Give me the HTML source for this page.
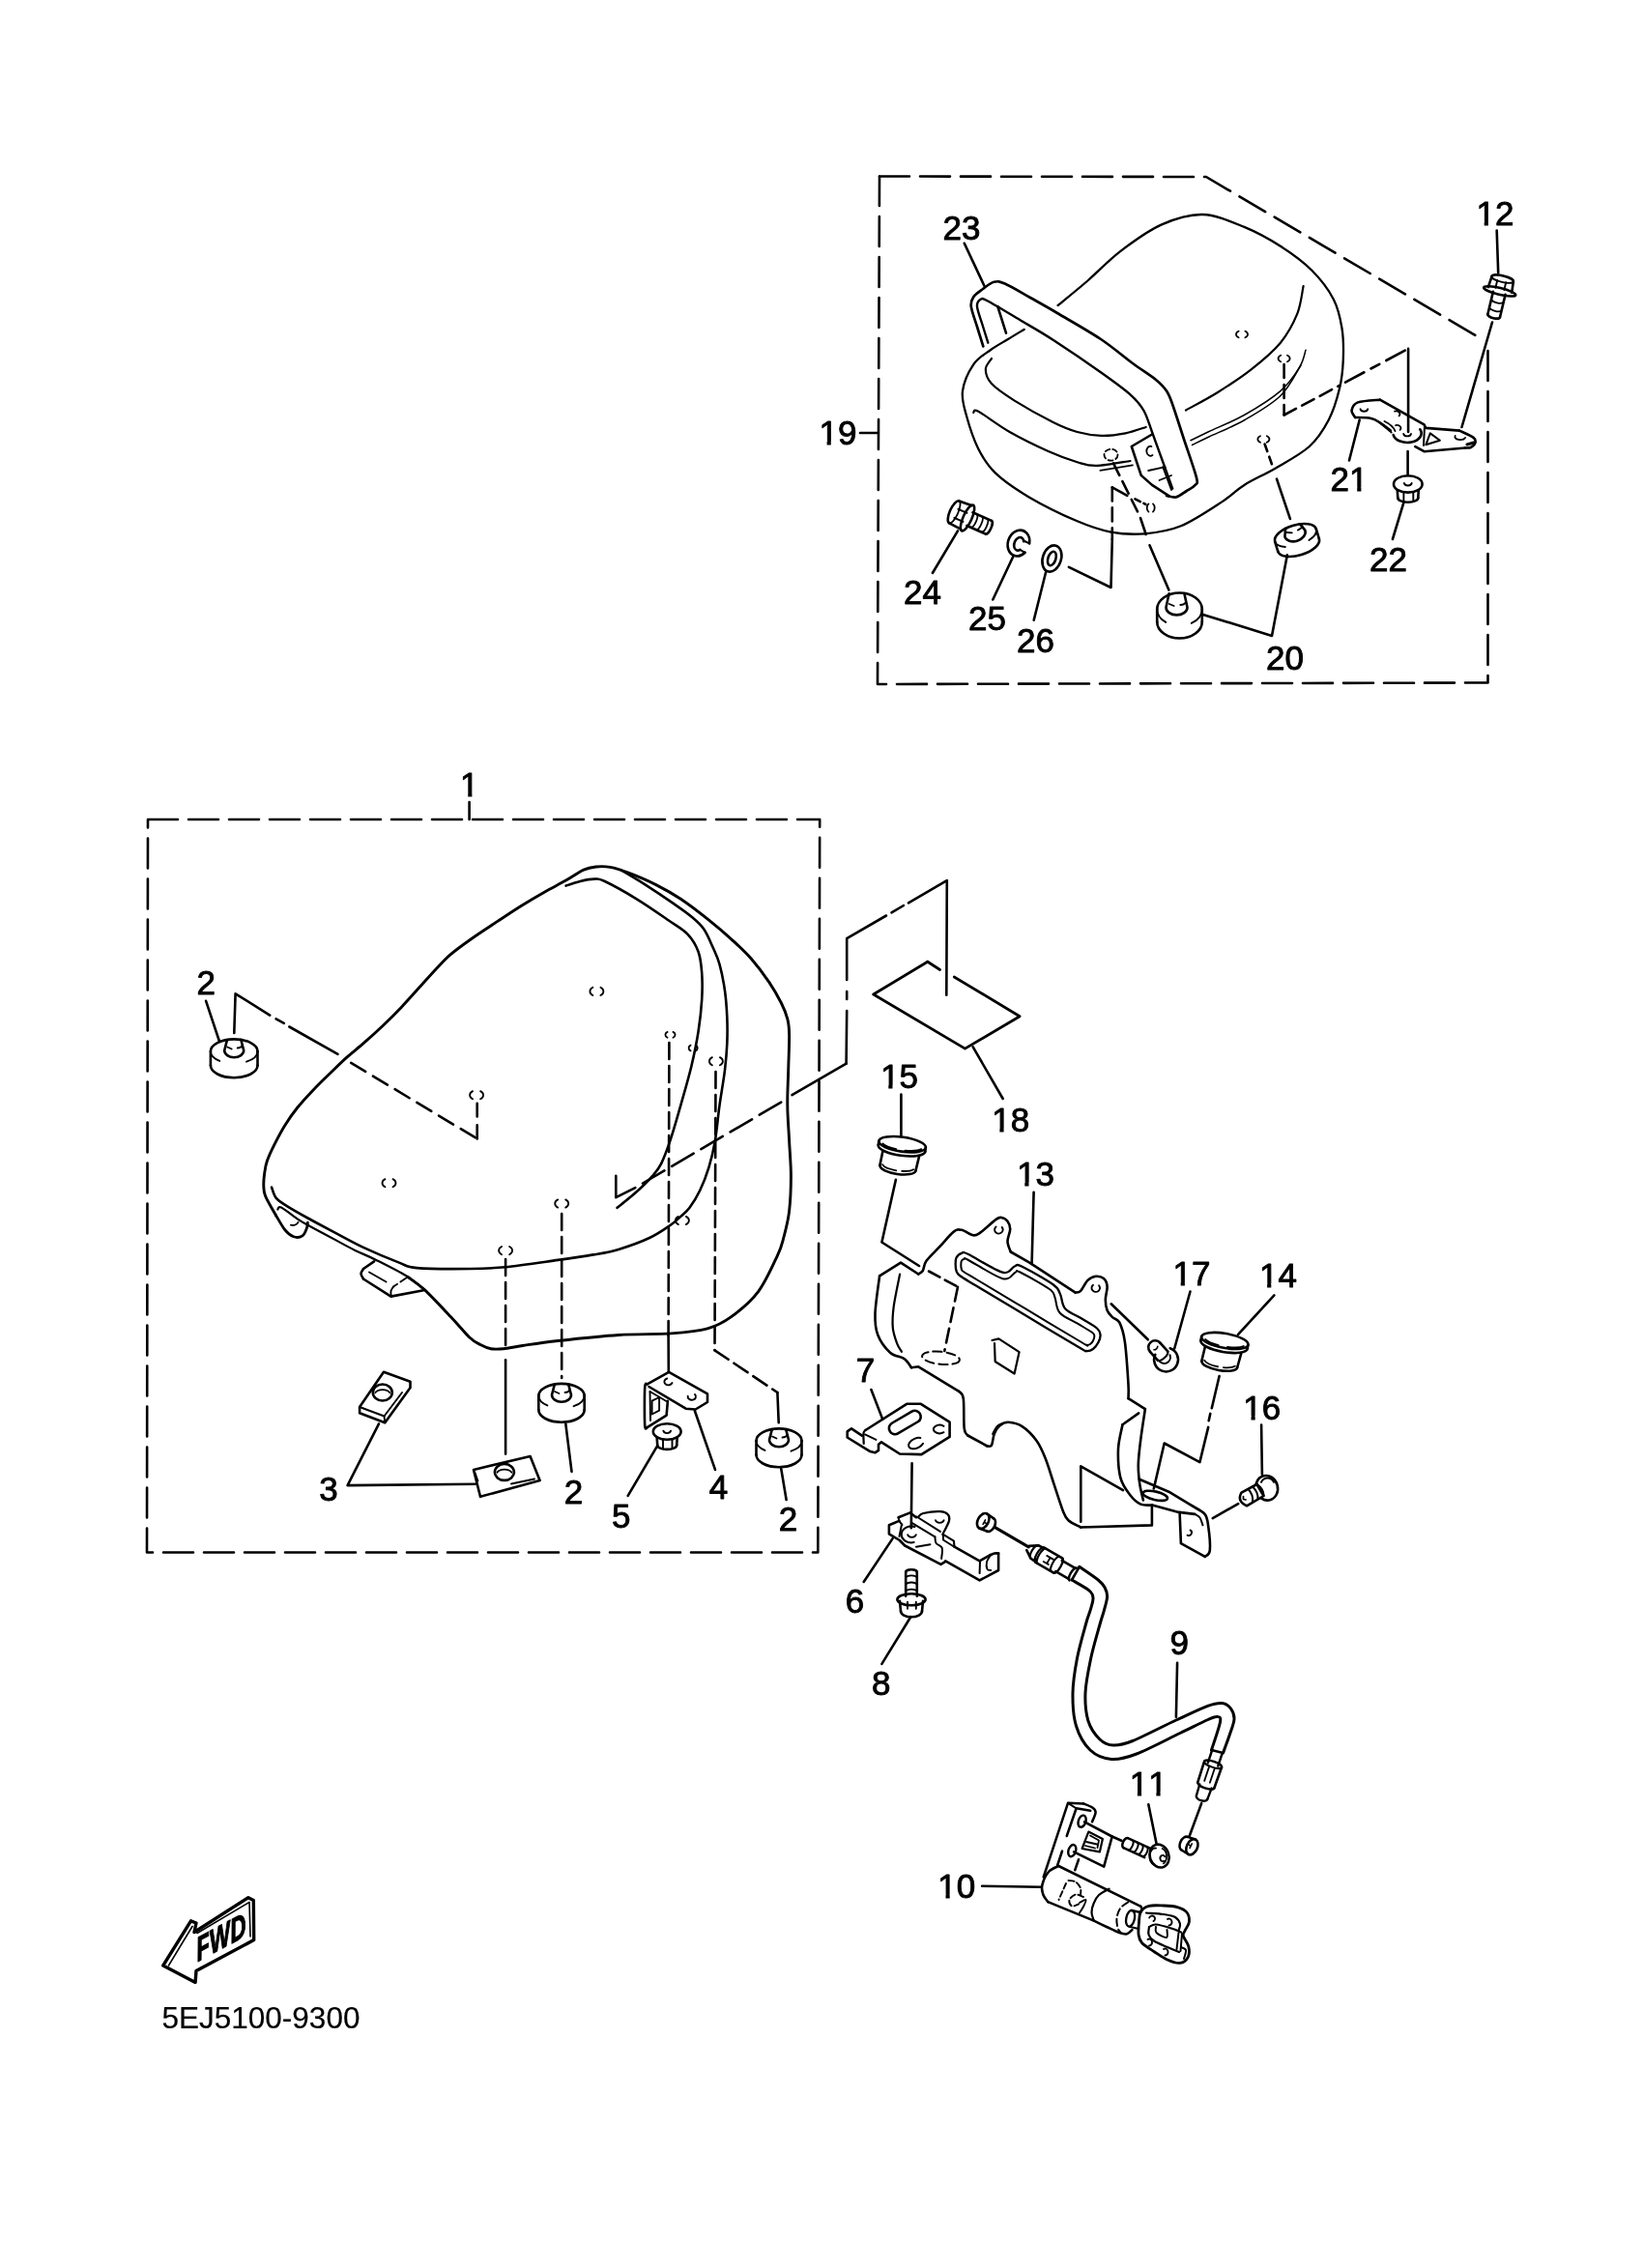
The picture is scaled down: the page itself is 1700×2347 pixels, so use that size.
<!DOCTYPE html>
<html><head><meta charset="utf-8"><title>Seat parts diagram</title>
<style>
html,body{margin:0;padding:0;background:#fff;}
body{width:1700px;height:2347px;overflow:hidden;}
svg{display:block;}
svg{filter:grayscale(1);}
text{font-family:"Liberation Sans",sans-serif;fill:#000;stroke:#000;stroke-width:0.5px;}
text.lb{stroke-width:0.9px;letter-spacing:0.0px;font-kerning:none;}
rect.m{fill:#fff;stroke:none;}
</style></head><body>
<svg width="1700" height="2347" viewBox="0 0 1700 2347" fill="none" stroke="#000" stroke-width="2.6" stroke-linecap="round" stroke-linejoin="round">
<path d="M910 182.5 L1248 183 L1534 351.5" stroke-dasharray="31 11"/>
<path d="M1539.5 363 L1539.5 706.5 L908 708 L910 182.5" stroke-dasharray="31 11"/>
<path d="M890 448 L908 448"/>
<text class="lb" x="866.9" y="460.2" font-size="35" text-anchor="middle">19</text><rect class="m" x="848.6" y="456.7" width="7" height="6"/><rect class="m" x="859.8" y="456.7" width="6.7" height="6"/>
<path d="M1094.6 316 C1099.8 311.7 1115.2 299.4 1126 290 C1136.8 280.6 1146.8 269.4 1159.5 259.8 C1172.2 250.2 1187.8 238.7 1202 232.4 C1216.2 226.1 1230.2 221.6 1244.4 222 C1258.6 222.4 1274 229.4 1287.4 234.9 C1300.8 240.4 1313.2 247.3 1324.9 254.8 C1336.6 262.3 1348.2 270.7 1357.3 279.8 C1366.4 288.9 1374.6 299.7 1379.8 309.7 C1385 319.7 1386.8 329.3 1388.5 339.7 C1390.2 350.1 1390.2 361.7 1389.8 372.1 C1389.4 382.5 1388.5 391.7 1386 402.1 C1383.5 412.5 1380 424.5 1374.8 434.5 C1369.6 444.5 1363.9 453.7 1354.8 462 C1345.7 470.3 1331.1 477.8 1319.9 484.4 C1308.7 491 1296.7 496.1 1287.4 501.9 C1278.1 507.7 1275.2 512.3 1264.3 519.4 C1253.4 526.5 1235.3 538.8 1222 544.3 C1208.7 549.8 1196.6 551.2 1184.5 552.3 C1172.4 553.3 1161.2 552.8 1149.5 550.6 C1137.8 548.4 1128.7 545.3 1114.6 539.3 C1100.5 533.3 1078.8 522.7 1064.7 514.4 C1050.6 506.1 1038.5 497.7 1029.8 489.4 C1021.1 481.1 1017.3 474.5 1012.3 464.5 C1007.3 454.5 1002.5 439.5 999.8 429.5 C997.1 419.5 994.8 413.3 996 404.6 C997.2 395.9 1002.5 384.2 1007.3 377.1 C1012.1 370 1018.8 366.6 1024.8 362.2 C1030.8 357.8 1037.2 354.6 1043 351 C1048.8 347.4 1056.9 342.6 1059.7 340.9" stroke-width="2.3"/>
<path d="M1026 370.9 C1025 372.8 1019.8 377.7 1019.8 382.1 C1019.8 386.5 1021 391.7 1026 397.1 C1031 402.5 1039.1 408 1049.7 414.6 C1060.3 421.2 1078.9 431.6 1089.7 437 C1100.5 442.4 1106.3 444.7 1114.6 447 C1122.9 449.3 1131.3 450.6 1139.6 450.8 C1147.9 451 1156.8 449.8 1164.5 448.3 C1172.2 446.8 1182.2 443.1 1185.7 442" stroke-width="2.2"/>
<path d="M1007.3 427 C1008.1 426.8 1006.1 422.5 1012.3 425.8 C1018.5 429.1 1032.6 440.1 1044.7 447 C1056.8 453.9 1073.1 461.8 1084.7 467 C1096.3 472.2 1106.3 475.7 1114.6 478.2 C1122.9 480.7 1125.4 482.1 1134.6 481.9 C1143.8 481.7 1163.7 477.8 1169.5 477" stroke-width="2.2"/>
<path d="M1138.3 486.9 L1172 481.4" stroke-width="1.6"/>
<path d="M1348.6 296 C1347.5 300.8 1346.2 314.9 1342.3 324.7 C1338.3 334.5 1332.8 345.1 1324.9 354.7 C1317 364.3 1305.7 373.6 1294.9 382.1 C1284.1 390.7 1271.3 398.9 1260 406 C1248.7 413.1 1232.5 421.4 1227 424.5" stroke-width="2.2"/>
<path d="M1351 362.2 C1350 365.1 1349.1 372.5 1344.8 379.6 C1340.5 386.7 1334.5 396.3 1324.9 404.6 C1315.3 412.9 1299.9 422.4 1287.4 429.5 C1274.9 436.6 1259.2 442.6 1250 447 C1240.8 451.4 1235 454.2 1232 455.7" stroke-width="1.5"/>
<path d="M1346 378 C1342.5 383.2 1334.7 400.1 1325 409.5 C1315.3 418.9 1300.3 427.4 1288 434.5 C1275.7 441.6 1260.1 447.7 1251 452 C1241.9 456.3 1236.4 459.1 1233.5 460.5" stroke-width="1.5"/>
<path d="M1017.3 358.4 C1016.2 355 1013.1 344.9 1011 338 C1008.9 331.1 1005.4 322.3 1004.8 317.2 C1004.2 312.1 1005.3 310.2 1007.3 307.2 C1009.3 304.2 1013.5 301.6 1017 299 C1020.5 296.4 1024.7 292.7 1028.5 291.8 C1032.3 290.9 1033.5 290.8 1039.7 293.5 C1046 296.2 1057 302.9 1066 308 C1075 313.1 1081.8 316.8 1094 324 C1106.2 331.2 1126 342.3 1139 351 C1152 359.7 1162.5 369 1172 376 C1181.5 383 1190.2 388.2 1196 393 C1201.8 397.8 1204.2 400.4 1207 404.6 C1209.8 408.8 1209.9 409.4 1213 418 C1216.1 426.6 1221.3 443.3 1225.5 456 C1229.7 468.7 1236.2 486.7 1238 494.4 C1239.8 502.1 1238.3 499.6 1236.5 502 C1234.7 504.4 1230.2 506.4 1227 508.5 C1223.8 510.6 1220.3 513.6 1217 514.4 C1213.7 515.1 1208.7 513.2 1207 513" stroke-width="2.7"/>
<path d="M1022.3 354.7 C1021.3 351.6 1018.4 342.2 1016.5 336 C1014.6 329.8 1011.3 321.6 1011 317.2 C1010.7 312.8 1013 310.6 1014.8 309.7 C1016.6 308.8 1015.1 307.9 1022 311.5 C1028.9 315.1 1044.7 324.8 1056 331.5 C1067.3 338.2 1076 342.9 1090 352 C1104 361.1 1126.8 376.6 1140 386 C1153.2 395.4 1162.3 401.9 1169.5 408.3 C1176.7 414.7 1179.5 418.1 1183.2 424.5 C1187 430.9 1188.8 438.4 1192 447 C1195.2 455.6 1199 466.2 1202.5 476 C1206 485.8 1211.4 500.8 1213.2 505.7" stroke-width="2.4"/>
<path d="M1032.3 317.2 L1041 344.7"/>
<path d="M1192 449.5 L1170.8 462 L1180.7 491.9 L1192 501.9 L1209.4 513.1"/>
<path d="M1191.5 462 A4 5 0 1 0 1192.5 471" stroke-width="1.8"/>
<path d="M1188.2 487 L1205.7 483.2" stroke-width="1.8"/>
<path d="M1199.5 497 L1212 492" stroke-width="1.8"/>
<path d="M1203.2 483.2 L1212 507" stroke-width="1.8"/>
<path d="M1281.6 342.7 A6 4 0 0 0 1281.6 349.3" stroke-width="1.8"/>
<path d="M1288.4 342.7 A6 4 0 0 1 1288.4 349.3" stroke-width="1.8"/>
<path d="M1325.2 367.7 A6 4 0 0 0 1325.2 374.3" stroke-width="1.8"/>
<path d="M1332 367.7 A6 4 0 0 1 1332 374.3" stroke-width="1.8"/>
<path d="M1304 451.2 A6 4 0 0 0 1304 457.8" stroke-width="1.8"/>
<path d="M1310.8 451.2 A6 4 0 0 1 1310.8 457.8" stroke-width="1.8"/>
<ellipse cx="1149.5" cy="470.7" rx="7" ry="6" stroke-width="1.8" stroke-dasharray="5 3"/>
<path d="M1188.4 521.4 A4 5 0 0 0 1188.4 529.6" stroke-width="1.8"/>
<path d="M1193 521.4 A4 5 0 0 1 1193 529.6" stroke-width="1.8"/>
<path d="M1328.6 377 L1328.6 429.5" stroke-dasharray="14 7"/>
<path d="M1328.6 429.5 L1386 399" stroke-dasharray="14 7"/>
<path d="M1392 395.6 L1457.1 360.9" stroke-dasharray="22 8 10 8"/>
<path d="M1457.1 360.9 L1457.1 447"/>
<path d="M1152 479.4 L1177 529.4" stroke-dasharray="14 7"/>
<path d="M1180 536 L1185.7 553"/>
<path d="M1189.5 564.3 L1209.4 610.5"/>
<path d="M1150.8 504.4 L1150.8 558" stroke-dasharray="14 7"/>
<path d="M1150.8 558 L1149.5 608 L1105.9 586.8"/>
<path d="M1150.8 504.4 L1166.3 512.8"/>
<path d="M1174.5 516.4 L1185.4 521.9" stroke-dasharray="6 4"/>
<path d="M1308.6 459.5 L1317.4 484.4" stroke-dasharray="8 6"/>
<path d="M1321 495.7 L1334.9 536.9"/>
<path d="M1331.9 574.3 L1316 657.9 L1243 635.4"/>
<path d="M997.8 251.8 L1018.5 296"/>
<path d="M991 549.3 L964.9 593"/>
<path d="M1048.5 575.5 L1027.3 620.5"/>
<path d="M1082.2 591.8 L1069.7 641.7"/>
<path d="M1548.7 238.6 L1550.2 282.3"/>
<path d="M1544 333.5 L1512.5 442"/>
<path d="M1406.7 434.5 L1396 476.5"/>
<path d="M1456.6 467 L1456.6 491.9"/>
<path d="M1452.6 519.4 L1440.9 558"/>
<text class="lb" x="995" y="247.6" font-size="35" text-anchor="middle">23</text>
<text class="lb" x="1547" y="232.6" font-size="35" text-anchor="middle">12</text><rect class="m" x="1528.7" y="229.1" width="7" height="6"/><rect class="m" x="1539.9" y="229.1" width="6.7" height="6"/>
<text class="lb" x="1396" y="508" font-size="35" text-anchor="middle">21</text><rect class="m" x="1397.2" y="504.5" width="7" height="6"/><rect class="m" x="1408.4" y="504.5" width="6.7" height="6"/>
<text class="lb" x="1436.5" y="591.1" font-size="35" text-anchor="middle">22</text>
<text class="lb" x="1329.5" y="693.4" font-size="35" text-anchor="middle">20</text>
<text class="lb" x="954.5" y="624.6" font-size="35" text-anchor="middle">24</text>
<text class="lb" x="1021.5" y="652.2" font-size="35" text-anchor="middle">25</text>
<text class="lb" x="1071.5" y="674.6" font-size="35" text-anchor="middle">26</text>
<ellipse cx="1088.4" cy="578" rx="9.5" ry="14" transform="rotate(18 1088.4 578)"/>
<ellipse cx="1088.4" cy="578" rx="4" ry="7.5" transform="rotate(18 1088.4 578)"/>
<g transform="translate(1054 562.1) rotate(20)">
<path d="M9.5 6.8 A11 13.7 0 1 1 10.6 -3.5"/>
<path d="M3.6 5.9 A4.8 7 0 1 1 4.4 -3.5"/>
<path d="M10.6 -3.5 L3.9 -4.2" stroke-width="2"/>
<path d="M9.5 6.9 L3.6 5.9" stroke-width="2"/>
</g>
<g transform="translate(1551.7 301.4) rotate(103.4)">
<ellipse cx="0" cy="0" rx="3.4" ry="17"/>
<path d="M-1.5 -12.5 L-13 -11.5"/>
<path d="M-1.5 12.5 L-13 11.5"/>
<path d="M-13 11.5 A3.4 11.5 0 0 1 -13 -11.5"/>
<path d="M-13 -11.5 A3.1 11.5 0 0 1 -13 11.5" stroke-width="1.8"/>
<path d="M-2.5 -4.2 L-10.5 -4.2" stroke-width="1.9"/>
<path d="M-2.5 5 L-10.5 5" stroke-width="1.9"/>
<path d="M2 -6.5 L26 -6.5"/>
<path d="M2 6.5 L26 6.5"/>
<path d="M26 -6.5 A2.6 6.5 0 0 1 26 6.5"/>
<path d="M10.1 -6.4 A2.6 6.5 0 0 1 10.1 6.4" stroke-width="1.8"/>
<path d="M18.8 -6.4 A2.6 6.5 0 0 1 18.8 6.4" stroke-width="1.8"/>
</g>
<g transform="translate(1001 536) rotate(24)">
<ellipse cx="0" cy="0" rx="4.5" ry="14.5"/>
<path d="M-1.5 -13.5 L-15 -12.5"/>
<path d="M-1.5 13.5 L-15 12.5"/>
<path d="M-15 12.5 A4.5 12.5 0 0 1 -15 -12.5"/>
<path d="M-15 -12.5 A4 12.5 0 0 1 -15 12.5" stroke-width="1.8"/>
<path d="M-2.5 -4.5 L-12.5 -4.5" stroke-width="1.9"/>
<path d="M-2.5 5.4 L-12.5 5.4" stroke-width="1.9"/>
<path d="M2.7 -7.5 L24 -7.5"/>
<path d="M2.7 7.5 L24 7.5"/>
<path d="M24 -7.5 A2.6 7.5 0 0 1 24 7.5"/>
<path d="M7.5 -7.4 A2.6 7.5 0 0 1 7.5 7.4" stroke-width="1.8"/>
<path d="M13.5 -7.4 A2.6 7.5 0 0 1 13.5 7.4" stroke-width="1.8"/>
<path d="M19.5 -7.4 A2.6 7.5 0 0 1 19.5 7.4" stroke-width="1.8"/>
</g>
<g transform="translate(1220.5 630.5)">
<path d="M-23.3 0 A23.3 17 0 0 1 23.3 -0"/>
<path d="M-23.3 0 A23.3 17 0 0 0 -14.3 13.4" stroke-width="1.9"/>
<path d="M23.3 0 A23.3 17 0 0 1 12.3 14.4" stroke-width="1.9"/>
<path d="M-23.3 0 L-23.3 13"/>
<path d="M23.3 0 L23.3 13"/>
<path d="M23.3 13 A23.3 17 0 0 1 -23.3 13"/>
<path d="M-10.9 -16.2 L-14 -2 A11 7.9 0 0 0 8 -2 L4.9 -16.2"/>
<path d="M-10.7 -5.5 L-5.8 -3.5" stroke-width="1.8"/>
<path d="M0.8 -4.5 Q4.7 -4.5 6.3 -7" stroke-width="1.8"/>
</g>
<g transform="translate(1340.5 554) rotate(-17)">
<path d="M-22.3 0 A22.3 10.5 0 0 1 22.3 -0"/>
<path d="M-22.3 0 A22.3 10.5 0 0 0 -13.7 8.3" stroke-width="1.9"/>
<path d="M22.3 0 A22.3 10.5 0 0 1 11.8 8.9" stroke-width="1.9"/>
<path d="M-22.3 0 L-22.3 10.5"/>
<path d="M22.3 0 L22.3 10.5"/>
<path d="M22.3 10.5 A22.3 10.5 0 0 1 -22.3 10.5"/>
<path d="M-7.9 -9.7 L-11 -2 A11 7.9 0 0 0 11 -2 L7.9 -9.7"/>
<path d="M-7.7 -5.5 L-2.8 -3.5" stroke-width="1.8"/>
<path d="M3.8 -4.5 Q7.7 -4.5 9.3 -7" stroke-width="1.8"/>
</g>
<ellipse cx="1456.8" cy="500.9" rx="14.8" ry="8.7"/>
<path d="M1460.7 500 A4 3.2 0 0 1 1452.9 500" stroke-width="1.9"/>
<path d="M1445.8 507.2 L1446.3 515.2"/>
<path d="M1467.8 507.2 L1467.3 515.2"/>
<path d="M1467.3 515.2 A10.5 4.5 0 0 1 1446.3 515.2"/>
<path d="M1452.4 509.6 L1452.4 518.7" stroke-width="1.9"/>
<path d="M1462.3 509.1 L1462.3 518.2" stroke-width="1.9"/>
<path d="M1402.2 432 C1401.6 430.8 1398.1 427.2 1398.6 424.6 C1399.1 422 1400.1 418.2 1405 416.4 C1409.9 414.6 1424 414.1 1427.8 413.7"/>
<path d="M1427.8 413.7 L1473.5 439.3 L1475.3 442.9 L1510 445.6"/>
<path d="M1510 445.6 C1512.4 446.8 1521.9 450.8 1524.6 452.9 C1527.3 455 1526.9 456.7 1526.4 458.4 C1525.9 460.1 1523.5 462.1 1521.8 463 C1520.1 463.9 1517 463.4 1516 463.5"/>
<path d="M1516 463.5 L1473.5 467.2 L1464.3 462.1"/>
<path d="M1402.2 432 C1405 432.1 1414.4 432 1418.7 432.9 C1423 433.8 1424.5 435.3 1427.8 437.4 C1431.1 439.5 1437 444.2 1438.8 445.6"/>
<path d="M1441.7 450.1 A14.6 9.6 0 1 0 1469.3 444.3"/>
<path d="M1474 441 L1473 461" stroke-width="2"/>
<path d="M1475.3 460.3 L1479.8 448.4 L1489.9 455.7 Z" stroke-width="2"/>
<path d="M1428.7 438.3 L1439.7 447.5 M1432.5 436 Q1441 440 1443.5 446" stroke-width="1.9"/>
<path d="M1415.3 423.3 A4 3.2 0 0 1 1407.5 423.3" stroke-width="1.9"/>
<path d="M1460 448.9 A4 3.2 0 0 1 1452.2 448.9" stroke-width="1.9"/>
<path d="M1516.1 453 A5.5 3 0 0 1 1505.7 451" stroke-width="1.8"/>
<path d="M1443.1 425.7 A4 3 0 0 1 1447.6 430.4" stroke-width="1.8"/>
<path d="M1444.1 440.2 A4 3 0 0 1 1448.6 444.9" stroke-width="1.8"/>
<path d="M1518 460 L1525 458" stroke-width="3"/>
<path d="M153 848 L848.2 848 L846.3 1606.5 L152 1606.5 L153 848" stroke-dasharray="31 11"/>
<path d="M485.6 830 L485.6 848"/>
<text class="lb" x="485.7" y="824.3" font-size="35" text-anchor="middle">1</text><rect class="m" x="477.2" y="820.8" width="7" height="6"/><rect class="m" x="488.4" y="820.8" width="6.7" height="6"/>
<path d="M285.6 1257.9 C283.8 1254.6 276.7 1243 274.6 1237.8 C272.5 1232.6 273 1230.8 272.8 1226.8 C272.6 1222.8 273.1 1218.2 273.7 1214 C274.3 1209.8 274.7 1206.2 276.4 1201.3 C278.1 1196.4 280.6 1190.9 283.7 1184.8 C286.8 1178.7 290.7 1171.1 294.7 1164.7 C298.7 1158.3 302.6 1152.6 307.5 1146.5 C312.4 1140.4 318.1 1134.3 323.9 1128.2 C329.7 1122.1 336.4 1115.6 342.2 1110 C348 1104.4 352.8 1099.6 358.6 1094.4 C364.4 1089.2 370.5 1084.5 376.9 1078.9 C383.3 1073.3 390.5 1066.8 396.9 1060.7 C403.3 1054.6 409.1 1048.8 415.2 1042.4 C421.3 1036 427.4 1029 433.5 1022.3 C439.6 1015.6 446.2 1008 451.7 1002.2 C457.2 996.4 460.2 992.8 466.3 987.6 C472.4 982.4 480 977 488.2 971.2 C496.4 965.4 507 958.6 515.6 952.9 C524.2 947.2 532 942 540 937 C548 932 556.1 927.2 563.7 922.9 C571.3 918.6 578.9 914.9 585.6 911.1 C592.3 907.3 598.7 902.5 603.9 900.1 C609.1 897.8 612.1 897.5 616.7 897 C621.3 896.5 625.8 896.4 631.3 897.4 C636.8 898.4 641.6 899.9 649.5 902.9 C657.4 905.9 669.7 911 678.8 915.6 C687.9 920.2 695.2 924.2 704.3 930.3 C713.4 936.4 724.4 944.9 733.5 952.2 C742.6 959.5 751.8 967.4 759.1 974.1 C766.4 980.8 771.3 985.3 777.4 992.3 C783.5 999.3 790.4 1008.5 795.6 1016.1 C800.8 1023.7 805.2 1031.6 808.4 1038 C811.6 1044.4 813.4 1048.9 814.8 1054.4 C816.2 1059.9 816.5 1062 816.6 1070.8 C816.8 1079.6 816 1095.2 815.7 1107.4 C815.4 1119.6 814.6 1131.7 814.8 1143.9 C814.9 1156.1 816 1168.2 816.6 1180.4 C817.2 1192.6 818.4 1204.7 818.4 1216.9 C818.4 1229.1 817.8 1242.9 816.6 1253.4 C815.4 1263.9 813 1272.4 811 1280 C809 1287.6 808.9 1289.7 804.5 1299.1 C800.1 1308.5 792.5 1326 784.6 1336.6 C776.7 1347.1 765.8 1356 757 1362.4 C748.2 1368.8 742.4 1372 732 1374.9 C721.6 1377.8 709.9 1378.8 694.6 1379.9 C679.3 1381 659.5 1380.2 640 1381.5 C620.5 1382.8 593.9 1385.7 577.4 1387.5 C560.9 1389.3 550.2 1391.1 540.8 1392.5 C531.4 1393.9 526.3 1395.2 520.8 1395.7 C515.3 1396.2 512 1396.4 508 1395.7 C504 1395 500.6 1393.4 497 1391.5 C493.4 1389.6 491 1388.8 486.1 1384.2 C481.2 1379.7 475.6 1372.4 467.8 1364.2 C460 1356 447.1 1342 439.5 1334.9 C431.9 1327.8 424.9 1323.7 422 1321.5" stroke-width="2.9"/>
<path d="M642.2 900.1 C646.5 902.7 659 910 667.8 915.6 C676.6 921.2 687.3 928.4 695.2 933.9 C703.1 939.4 709.8 943.9 715.3 948.5 C720.8 953.1 724.5 956.1 728.1 961.3 C731.8 966.5 734.5 973.4 737.2 979.5 C739.9 985.6 742.4 990.2 744.5 997.8 C746.6 1005.4 748.7 1016.1 750 1025.2 C751.3 1034.3 751.9 1043.5 752.3 1052.6 C752.7 1061.7 752.7 1070.9 752.3 1080 C751.9 1089.1 751.3 1096.6 750 1107.3 C748.7 1118 746.2 1131.7 744.5 1143.9 C742.8 1156.1 741.7 1169.8 739.9 1180.4 C738.1 1191.1 736.1 1199.3 733.5 1207.8 C730.9 1216.3 727.7 1224.5 724.4 1231.5 C721.1 1238.5 716.9 1245.2 713.5 1249.8 C710.1 1254.4 707.6 1255.9 704.3 1258.9 C700.9 1261.9 698.8 1264.3 693.4 1268 C688 1271.7 680.9 1276.8 672 1281 C663.1 1285.2 649.7 1290 640 1292.9 C630.3 1295.8 624.3 1296.6 613.9 1298.4 C603.5 1300.2 592.6 1301.8 577.4 1303.9 C562.2 1306 537.8 1309.7 522.6 1311.2 C507.4 1312.7 501.3 1312.8 486.1 1313 C470.9 1313.2 443.5 1313.2 431.3 1312.1 C419.1 1311 422.1 1310.1 413 1306.6 C403.9 1303.1 387.4 1296.2 376.5 1291.1 C365.6 1286 357 1281 347.6 1276.1 C338.2 1271.2 328.8 1266.2 320.3 1261.5 C311.8 1256.8 302.3 1251.5 296.5 1247.8 C290.7 1244.1 288.2 1242.8 285.6 1239.6 C283 1236.4 281.8 1230.4 281 1228.6" stroke-width="2.6"/>
<path d="M585.6 916.6 C588 915.8 595.4 913.2 600.3 912 C605.2 910.8 610.6 909.6 614.9 909.6 C619.1 909.6 618.5 908.5 625.8 912 C633.1 915.5 647.8 923.6 658.7 930.3 C669.7 937 682.7 946.1 691.5 952.2 C700.3 958.3 706.4 961.3 711.6 966.8 C716.8 972.3 720.2 978.3 722.6 985 C725 991.7 725.6 998.7 726.2 1006.9 C726.8 1015.1 726.8 1024.2 726.2 1034.3 C725.6 1044.3 724.4 1055.6 722.6 1067.2 C720.8 1078.8 718.3 1090.9 715.3 1103.7 C712.2 1116.5 707.9 1131.1 704.3 1143.9 C700.6 1156.7 696.8 1170.4 693.4 1180.4 C690 1190.4 687.2 1198 684.2 1204.1 C681.2 1210.2 679.4 1212 675.1 1216.9 C670.9 1221.8 664.8 1227.8 658.7 1233.3 C652.6 1238.8 642 1247 638.6 1249.8" stroke-width="2.6"/>
<path d="M287.4 1251.5 C288 1251.2 287.4 1247.8 291 1249.6 C294.6 1251.4 304.4 1259.2 309.3 1262.4 C314.2 1265.6 313.9 1265.3 320.3 1268.8 C326.7 1272.3 339.8 1279.2 347.6 1283.4 C355.5 1287.6 360.4 1290.5 367.4 1293.9 C374.3 1297.3 380.5 1299.5 389.3 1303.9 C398.1 1308.3 411.9 1315.1 420.3 1320.3 C428.7 1325.5 436.3 1332.5 439.5 1334.9" stroke-width="2.2"/>
<path d="M285.6 1257.9 C287.1 1260.3 291.7 1268.8 294.7 1272.5 C297.7 1276.2 300.8 1278.7 303.8 1279.8 C306.8 1280.9 310.6 1280.4 312.9 1278.9 C315.2 1277.4 316.6 1272.9 317.5 1270.6 C318.4 1268.3 318.2 1266.1 318.4 1265.2" stroke-width="2.8"/>
<path d="M308.6 1264.7 A6 5 0 0 1 300.9 1267.7" stroke-width="1.8"/>
<path d="M387.1 1305.4 L376 1313"/>
<path d="M376 1313 C375.6 1313.8 373.5 1316.2 373.5 1318 C373.5 1319.8 375.6 1322.6 376 1323.5"/>
<path d="M376 1323.5 L404.5 1341.6 L438.2 1335.3"/>
<path d="M382 1316.5 L399.5 1326.5" stroke-width="1.9"/>
<path d="M421 1322 L407 1331.5" stroke-width="1.9" stroke-dasharray="8 4"/>
<path d="M407 1331.5 C406.6 1332.2 404.9 1334.3 404.5 1336 C404.1 1337.7 404.8 1340.7 404.8 1341.6" stroke-width="1.9"/>
<path d="M489.1 1129.1 A7 5 0 0 0 489.1 1137.3" stroke-width="1.8"/>
<path d="M497.1 1129.1 A7 5 0 0 1 497.1 1137.3" stroke-width="1.8"/>
<path d="M398.5 1220.1 A7 5 0 0 0 398.5 1228.3" stroke-width="1.8"/>
<path d="M406.5 1220.1 A7 5 0 0 1 406.5 1228.3" stroke-width="1.8"/>
<path d="M519.1 1290 A7 5 0 0 0 519.1 1298.2" stroke-width="1.8"/>
<path d="M527.1 1290 A7 5 0 0 1 527.1 1298.2" stroke-width="1.8"/>
<path d="M613.4 1021.8 A7 5 0 0 0 613.4 1030" stroke-width="1.8"/>
<path d="M621.4 1021.8 A7 5 0 0 1 621.4 1030" stroke-width="1.8"/>
<path d="M690.6 1067.9 A5 3.5 0 0 0 690.6 1073.7" stroke-width="1.8"/>
<path d="M696.4 1067.9 A5 3.5 0 0 1 696.4 1073.7" stroke-width="1.8"/>
<path d="M714.6 1081.6 A4.5 3.5 0 0 0 714.6 1087.4" stroke-width="1.8"/>
<path d="M719.8 1081.6 A4.5 3.5 0 0 1 719.8 1087.4" stroke-width="1.8"/>
<path d="M736.9 1094.1 A7 5 0 0 0 736.9 1102.3" stroke-width="1.8"/>
<path d="M744.9 1094.1 A7 5 0 0 1 744.9 1102.3" stroke-width="1.8"/>
<path d="M577.2 1241.4 A7 5 0 0 0 577.2 1249.6" stroke-width="1.8"/>
<path d="M585.2 1241.4 A7 5 0 0 1 585.2 1249.6" stroke-width="1.8"/>
<path d="M701.9 1258.9 A7 5 0 0 0 701.9 1267.1" stroke-width="1.8"/>
<path d="M709.9 1258.9 A7 5 0 0 1 709.9 1267.1" stroke-width="1.8"/>
<path d="M242.3 1069 L243.6 1028.3 L279.2 1050.6"/>
<path d="M285.6 1054.3 L293.8 1058.8"/>
<path d="M299.3 1062.5 L349.5 1090.8"/>
<path d="M363.2 1099.9 L493.7 1178.4" stroke-dasharray="17.5 9"/>
<path d="M493.7 1178.4 L493.7 1141.9" stroke-dasharray="14 9"/>
<path d="M523.1 1303 L523.1 1393" stroke-dasharray="17 7"/>
<path d="M523.1 1407.3 L523.1 1504.6"/>
<path d="M581.2 1256 L581.2 1426" stroke-dasharray="17 7"/>
<path d="M692.4 1079 L691.6 1382" stroke-dasharray="17 7"/>
<path d="M691.6 1382 L691.8 1419.8"/>
<path d="M740.5 1109 L739.5 1397.3" stroke-dasharray="17 7"/>
<path d="M739.5 1397.3 L804.4 1441" stroke-dasharray="17 7"/>
<path d="M804.4 1441 L805.7 1472.2"/>
<path d="M637.3 1216.8 L637.3 1239.2 L657.3 1229.2"/>
<path d="M665 1224.5 L814.5 1136.9" stroke-dasharray="26 9"/>
<path d="M819.5 1133.2 L875.6 1100.7"/>
<path d="M875.6 1100.7 L876.2 1046"/>
<path d="M876.2 1034 L876.2 1026"/>
<path d="M876.2 1014 L876.2 971.1 L917 947.5"/>
<path d="M922.5 944.3 L935 937"/>
<path d="M940 934.3 L979.8 911.2 L979.3 1029.7"/>
<g transform="translate(242.2 1088)">
<path d="M-24.3 0 A24.3 12.6 0 0 1 24.3 -0"/>
<path d="M-24.3 0 A24.3 12.6 0 0 0 -15 9.9" stroke-width="1.9"/>
<path d="M24.3 0 A24.3 12.6 0 0 1 12.9 10.7" stroke-width="1.9"/>
<path d="M-24.3 0 L-24.3 14.6"/>
<path d="M24.3 0 L24.3 14.6"/>
<path d="M24.3 14.6 A24.3 12.6 0 0 1 -24.3 14.6"/>
<path d="M-7.2 -11.8 L-10 -1 A10 7.2 0 0 0 10 -1 L7.2 -11.8"/>
<path d="M-7 -4.5 L-2.5 -2.5" stroke-width="1.8"/>
<path d="M3.5 -3.5 Q7 -3.5 8.5 -6" stroke-width="1.8"/>
</g>
<g transform="translate(581 1444.5)">
<path d="M-23.7 0 A23.7 12.6 0 0 1 23.7 -0"/>
<path d="M-23.7 0 A23.7 12.6 0 0 0 -14.6 9.9" stroke-width="1.9"/>
<path d="M23.7 0 A23.7 12.6 0 0 1 12.6 10.7" stroke-width="1.9"/>
<path d="M-23.7 0 L-23.7 14.6"/>
<path d="M23.7 0 L23.7 14.6"/>
<path d="M23.7 14.6 A23.7 12.6 0 0 1 -23.7 14.6"/>
<path d="M-7.2 -11.8 L-10 -1 A10 7.2 0 0 0 10 -1 L7.2 -11.8"/>
<path d="M-7 -4.5 L-2.5 -2.5" stroke-width="1.8"/>
<path d="M3.5 -3.5 Q7 -3.5 8.5 -6" stroke-width="1.8"/>
</g>
<g transform="translate(806 1491)">
<path d="M-23.5 0 A23.5 12.6 0 0 1 23.5 -0"/>
<path d="M-23.5 0 A23.5 12.6 0 0 0 -14.5 9.9" stroke-width="1.9"/>
<path d="M23.5 0 A23.5 12.6 0 0 1 12.5 10.7" stroke-width="1.9"/>
<path d="M-23.5 0 L-23.5 14.6"/>
<path d="M23.5 0 L23.5 14.6"/>
<path d="M23.5 14.6 A23.5 12.6 0 0 1 -23.5 14.6"/>
<path d="M-7.2 -11.8 L-10 -1 A10 7.2 0 0 0 10 -1 L7.2 -11.8"/>
<path d="M-7 -4.5 L-2.5 -2.5" stroke-width="1.8"/>
<path d="M3.5 -3.5 Q7 -3.5 8.5 -6" stroke-width="1.8"/>
</g>
<ellipse cx="690.2" cy="1481.5" rx="14.4" ry="8.2"/>
<path d="M694.1 1480.6 A4 3.2 0 0 1 686.3 1480.6" stroke-width="1.9"/>
<path d="M679.7 1487.4 L680.2 1495.4"/>
<path d="M700.7 1487.4 L700.2 1495.4"/>
<path d="M700.2 1495.4 A10 4.5 0 0 1 680.2 1495.4"/>
<path d="M686 1489.7 L686 1498.9" stroke-width="1.9"/>
<path d="M695.5 1489.2 L695.5 1498.4" stroke-width="1.9"/>
<path d="M397 1419.8 L424.5 1429.8 L424.5 1436 L398.3 1472.2 L372.1 1462.2 L372.1 1456 Z"/>
<path d="M372.1 1456 L397.5 1465.5 L398.3 1472.2" stroke-width="1.9"/>
<path d="M397.5 1465.5 L416 1441" stroke-width="1.9"/>
<ellipse cx="395.8" cy="1441" rx="10" ry="8.5"/>
<path d="M388.3 1441.3 A8 5 0 0 1 403.3 1441.3" stroke-width="1.8"/>
<path d="M490 1520.9 L548.6 1507.1 L558.6 1532.1 L497 1548.8 Z"/>
<path d="M529 1535.5 L553 1530.5" stroke-width="1.9"/>
<path d="M491.5 1524 L494.5 1532.5" stroke-width="1.8"/>
<ellipse cx="521.9" cy="1523.4" rx="10" ry="8.5"/>
<path d="M514.4 1523.8 A8 5 0 0 1 529.4 1523.8" stroke-width="1.8"/>
<path d="M669.7 1432.3 L692.1 1419.8 L732 1442.3 L732 1451 L719.6 1458.5 L709.6 1457.7 L671.5 1435"/>
<path d="M669.7 1432.3 C669.3 1432.9 667.6 1428.9 667.2 1436 C666.8 1443.1 666.8 1467.8 667.2 1474.7 C667.6 1481.6 669.3 1476.8 669.7 1477.2"/>
<path d="M669.7 1477.2 L689.6 1464.7 L690.9 1449.7"/>
<path d="M672.5 1440 L673 1470" stroke-width="1.9"/>
<path d="M672.5 1440 L689.5 1450" stroke-width="1.9"/>
<path d="M674.6 1449.7 L682.1 1446 L682.1 1459.7 L674.6 1463.5 Z" stroke-width="1.9"/>
<path d="M695.5 1431 A4.2 3.5 0 1 1 690.2 1426.5" stroke-width="1.9"/>
<path d="M719 1443 A4.2 3.5 0 1 1 711.7 1444.6" stroke-width="1.9"/>
<path d="M213.1 1035.8 L226.8 1077"/>
<path d="M392 1473.4 L359.6 1537.1 L491.9 1535.8"/>
<path d="M585.3 1473.4 L591.5 1522.9"/>
<path d="M718.8 1459.7 L740 1520.9"/>
<path d="M679.6 1497.2 L649.7 1547.8"/>
<path d="M808.2 1519.6 L813.6 1552"/>
<text class="lb" x="213.3" y="1028.9" font-size="35" text-anchor="middle">2</text>
<text class="lb" x="340" y="1552.6" font-size="35" text-anchor="middle">3</text>
<text class="lb" x="593.4" y="1556.4" font-size="35" text-anchor="middle">2</text>
<text class="lb" x="642.8" y="1580.6" font-size="35" text-anchor="middle">5</text>
<text class="lb" x="743.5" y="1551.4" font-size="35" text-anchor="middle">4</text>
<text class="lb" x="815.6" y="1583.9" font-size="35" text-anchor="middle">2</text>
<path d="M959.8 995.3 L903.7 1029 L998.5 1085.1 L1055.1 1051.7 L987.3 1011" stroke-width="2.8"/>
<path d="M959.8 995.3 L972.5 1003.5" stroke-width="2.8"/>
<path d="M1006.7 1083.4 L1037.7 1137"/>
<text class="lb" x="1045.7" y="1171.3" font-size="35" text-anchor="middle">18</text><rect class="m" x="1027.4" y="1167.8" width="7" height="6"/><rect class="m" x="1038.6" y="1167.8" width="6.7" height="6"/>
<g transform="translate(933.6 1184.2) rotate(8)">
<ellipse cx="0" cy="0" rx="24.5" ry="7.5"/>
<path d="M-24.5 0 L-24.5 4.2"/>
<path d="M24.5 0 L24.5 4.2"/>
<path d="M24.5 4.2 A24.5 7.5 0 0 1 -24.5 4.2"/>
<path d="M-19 9.825 L-20 25.2"/>
<path d="M19 9.825 L17.5 25.2"/>
<path d="M17.5 25.2 A18.5 6 0 0 1 -19.5 25.2"/>
<path d="M15 24.1 A17 5.5 0 0 1 3.4 27.5" stroke-width="1.8"/>
<path d="M-2.5 27.7 A17 5.5 0 0 1 -17.4 23.6" stroke-width="1.8"/>
<path d="M20.2 2.1 A21.5 6 0 0 1 3.7 5.9" stroke-width="1.8"/>
<path d="M-5.6 5.8 A21.5 6 0 0 1 -20.2 2.1" stroke-width="1.8"/>
</g>
<text class="lb" x="930.6" y="1126.4" font-size="35" text-anchor="middle">15</text><rect class="m" x="912.3" y="1122.9" width="7" height="6"/><rect class="m" x="923.5" y="1122.9" width="6.7" height="6"/>
<path d="M932.4 1132.6 L932.4 1175.7"/>
<path d="M926.9 1220.7 L912.4 1285.5 L951 1310"/>
<path d="M961 1315.5 L991 1331.7" stroke-dasharray="13 6"/>
<path d="M991 1331.7 L977.3 1397.9" stroke-dasharray="15 7"/>
<ellipse cx="973.5" cy="1405.3" rx="19.5" ry="6.5" transform="rotate(6 973.5 1405.3)" stroke-width="2" stroke-dasharray="9 5"/>
<text class="lb" x="1071.6" y="1227" font-size="35" text-anchor="middle">13</text><rect class="m" x="1053.3" y="1223.5" width="7" height="6"/><rect class="m" x="1064.5" y="1223.5" width="6.7" height="6"/>
<path d="M1069.6 1233.9 L1067.6 1308"/>
<path d="M910.1 1320.3 L932 1306.6 L950.3 1318.5"/>
<path d="M950.3 1318.5 C951 1317.9 953.4 1317.3 954.8 1315 C956.2 1312.7 955.6 1308.9 958.5 1304.8 C961.4 1300.7 967.5 1295.2 972.2 1290.2 C976.9 1285.2 983 1277.5 986.8 1274.6 C990.6 1271.7 991.6 1272.2 995 1272.8 C998.4 1273.4 1003.7 1277.8 1006.9 1278.3 C1010.1 1278.8 1010.2 1278.3 1014.2 1275.6 C1018.2 1272.9 1026.9 1264.5 1030.6 1261.9 C1034.2 1259.3 1034.1 1259.7 1036.1 1260 C1038.1 1260.3 1041 1261.7 1042.5 1263.7 C1044 1265.7 1045.2 1268.4 1045.2 1271.9 C1045.2 1275.4 1042.4 1280.8 1042.5 1284.7 C1042.6 1288.6 1045.2 1293.7 1045.8 1295.5"/>
<path d="M1045.8 1295.5 L1065.3 1306.6 L1112.7 1337.6"/>
<path d="M1112.7 1337.6 C1113.6 1337.3 1116.1 1337.9 1118.2 1335.8 C1120.3 1333.7 1122.9 1327.4 1125.5 1324.9 C1128.1 1322.4 1131 1321.1 1133.7 1320.8 C1136.5 1320.5 1140 1321.3 1142 1323 C1144 1324.7 1145.3 1327.5 1145.6 1331.2 C1145.9 1334.9 1143.8 1340.8 1143.8 1344.9 C1143.8 1349 1144.4 1352.9 1145.6 1355.9 C1146.8 1359 1149 1361.1 1151.1 1363.2 C1153.2 1365.3 1156.3 1364.5 1158.4 1368.7 C1160.5 1373 1162.4 1378.1 1163.9 1388.7 C1165.4 1399.3 1166.9 1422.8 1167.5 1432.6 C1168.1 1442.3 1167.5 1444.8 1167.5 1447.2"/>
<path d="M1167.5 1447.2 L1184.9 1458.1"/>
<path d="M1184.9 1458.1 C1184.1 1463.3 1181.5 1479.8 1180.3 1489.3 C1179.1 1498.8 1178 1507.4 1177.8 1515.2 C1177.6 1523 1178.4 1529.7 1179.3 1535.9 C1180.2 1542.1 1182.3 1549.7 1182.9 1552.4"/>
<path d="M1178.2 1462.4 L1161.5 1474.3"/>
<path d="M1161.5 1474.3 C1160.8 1478.5 1157.3 1490.6 1157 1499.8 C1156.7 1509 1157.4 1521.8 1159.5 1529.7 C1161.6 1537.6 1165.9 1542.7 1169.4 1547.2 C1172.9 1551.7 1176.5 1554.9 1180.3 1556.6 C1184.1 1558.3 1190.2 1557.4 1192.2 1557.6"/>
<path d="M1192.2 1557.6 L1219.7 1564.9 L1236.2 1566.9"/>
<path d="M1236.2 1566.9 C1237.1 1567.5 1240.1 1568.6 1241.5 1570.5 C1242.9 1572.4 1244 1577 1244.5 1578.3" stroke-width="2"/>
<path d="M1178.8 1530.7 L1209.3 1543.7 L1234.1 1558.7"/>
<path d="M1234.1 1558.7 C1236.2 1560.1 1243.9 1563.5 1246.6 1566.9 C1249.3 1570.3 1249.3 1573 1250.2 1579.3 C1251.1 1585.6 1252.4 1599.3 1251.8 1604.6 C1251.2 1609.8 1247.6 1609.8 1246.8 1610.8"/>
<path d="M1246.8 1610.8 L1221.9 1597.1 L1220.6 1565"/>
<ellipse cx="1195.3" cy="1547.8" rx="13" ry="4.3" transform="rotate(13 1195.3 1547.8)"/>
<path d="M1231.5 1583.4 A3 3 0 0 1 1228.5 1588.6" stroke-width="1.8"/>
<path d="M1191.9 1557.6 L1191.9 1578.4 L1118.2 1580.5"/>
<path d="M910.1 1320.3 C909.3 1326.8 905.8 1349.3 905.5 1359.5 C905.2 1369.7 905.7 1374.8 908.3 1381.5 C910.9 1388.2 916.5 1395.6 921 1399.7 C925.5 1403.8 931.9 1403.5 935.6 1406.1 C939.3 1408.7 941.8 1413.7 943 1415.2"/>
<path d="M931.1 1318.5 C930 1324.1 925.9 1342.9 924.7 1352.2 C923.5 1361.5 923.2 1367.8 923.8 1374.2 C924.4 1380.6 926.8 1386.5 928.3 1390.6 C929.8 1394.7 932.1 1397.4 932.9 1398.8" stroke-width="2.2"/>
<path d="M943 1415.2 L950.3 1414.3 L992.2 1439.9"/>
<path d="M992.2 1439.9 C993 1441.1 995.9 1440.8 996.8 1447.2 C997.7 1453.6 996.9 1471.8 997.7 1478.2 C998.5 1484.6 1000.8 1484.3 1001.4 1485.5"/>
<path d="M1001.4 1485.5 L1021.5 1496.5"/>
<path d="M1021.5 1496.5 C1022.2 1496.3 1024.8 1497.7 1026 1495.6 C1027.2 1493.5 1027.4 1487 1028.8 1483.7 C1030.2 1480.4 1031.8 1477.5 1034.2 1475.5 C1036.6 1473.5 1039.4 1471.6 1043.4 1471.8 C1047.4 1472 1053.1 1473.2 1058 1476.4 C1062.9 1479.6 1068.6 1485.5 1072.6 1491 C1076.5 1496.5 1078.7 1501.7 1081.7 1509.3 C1084.7 1516.9 1087.8 1527.6 1090.8 1536.7 C1093.8 1545.8 1097.6 1557.9 1100 1564 C1102.4 1570.1 1102.4 1570.5 1105.4 1573.2 C1108.4 1576 1116.1 1579.3 1118.2 1580.5"/>
<path d="M1027 1484 C1027.8 1482.7 1029.7 1477.9 1031.5 1476 C1033.3 1474.1 1036.9 1473.1 1038 1472.5" stroke-width="1.8"/>
<path d="M1118.3 1574.7 L1118.3 1517.3 L1162 1542.2"/>
<path d="M988.7 1309 C988.7 1306.8 988.5 1303.5 989.5 1301.5 C990.5 1299.5 992.9 1297.4 995 1296.8 C997.1 1296.2 995 1294.7 1002 1298 C1009 1301.3 1029.2 1314.6 1037.2 1316.7 C1045.2 1318.8 1046.4 1311.5 1049.7 1310.5 C1053 1309.5 1050.4 1307.4 1057.1 1310.5 C1063.8 1313.6 1082.9 1324.4 1089.6 1329.2 C1096.2 1334 1094.9 1335 1097 1339.2 C1099.1 1343.4 1098.3 1349.9 1102.1 1354.2 C1105.9 1358.5 1114.5 1361.6 1120 1365 C1125.5 1368.4 1131.9 1371.8 1135 1374.5 C1138.1 1377.2 1138.2 1378.6 1138.5 1381 C1138.8 1383.4 1137.8 1386.5 1136.5 1389 C1135.2 1391.5 1133.1 1394.5 1131 1396 C1128.9 1397.5 1126.5 1398.3 1124 1398 C1121.5 1397.7 1126.7 1400.2 1116 1394 C1105.3 1387.8 1077.7 1371.1 1060 1360.5 C1042.3 1349.9 1021.2 1337.2 1010 1330.5 C998.8 1323.8 996.4 1322.6 993 1320 C989.6 1317.4 990.2 1316.8 989.5 1315 C988.8 1313.2 988.7 1311.2 988.7 1309 Z" stroke-width="2.3"/>
<path d="M994.3 1309 C994.3 1307.6 994.4 1305.5 995 1304.5 C995.6 1303.5 996.8 1302.8 998 1302.7 C999.2 1302.6 995.4 1300.6 1002 1304 C1008.6 1307.4 1029.4 1321.1 1037.5 1323.2 C1045.6 1325.3 1047.5 1317.8 1050.5 1316.7 C1053.5 1315.6 1049.7 1313.7 1055.5 1316.5 C1061.3 1319.3 1079.5 1329.5 1085.5 1333.8 C1091.5 1338 1089.5 1337.9 1091.3 1342 C1093.1 1346.1 1092.5 1353.9 1096.5 1358.5 C1100.5 1363.1 1109.4 1366.3 1115 1369.7 C1120.6 1373.1 1127.1 1376.7 1130 1378.8 C1132.9 1380.9 1132.1 1381 1132.3 1382.5 C1132.5 1384 1131.7 1386.1 1131 1387.5 C1130.3 1388.9 1129.1 1390.3 1128 1391 C1126.9 1391.7 1126 1392.1 1124.5 1391.8 C1123 1391.5 1129.8 1395.3 1119 1389 C1108.2 1382.7 1077.8 1364.4 1060 1353.7 C1042.2 1343 1022.5 1331.3 1012 1325 C1001.5 1318.7 999.9 1318 997 1316 C994.1 1314 995.2 1314.2 994.8 1313 C994.3 1311.8 994.3 1310.4 994.3 1309 Z" stroke-width="2"/>
<path d="M1036.7 1270 A4.3 4 0 1 1 1030.6 1269.5" stroke-width="1.9"/>
<path d="M1137.1 1330.3 A4.3 4 0 1 1 1131 1329.8" stroke-width="1.9"/>
<path d="M1029 1390 L1029.7 1409 L1049.6 1421.5 L1054.6 1399.1 L1033.4 1385.4 L1026.5 1387" stroke-width="2.2"/>
<text class="lb" x="1233" y="1330.4" font-size="35" text-anchor="middle">17</text><rect class="m" x="1214.7" y="1326.9" width="7" height="6"/><rect class="m" x="1225.9" y="1326.9" width="6.7" height="6"/>
<path d="M1231.5 1336.5 L1215.2 1395.5"/>
<path d="M1149.7 1349.3 L1187.8 1386.3"/>
<path d="M1210.7 1395.3 A12.4 12.4 0 1 1 1195.3 1401.8"/>
<path d="M1210.6 1402.3 A6.5 6.5 0 0 1 1198.9 1407.8" stroke-width="2"/>
<g transform="translate(1195.2 1394.3) rotate(48)">
<path d="M0 -7 A7 7 0 0 0 0 7"/>
<path d="M0 -7 L12 -7 M0 7 L12 7"/>
<path d="M12 -6.5 A2.5 6.5 0 0 1 12 6.5" stroke-width="2"/>
<path d="M1 -2.6 A2 3 0 0 1 1 2.6" stroke-width="1.6"/>
</g>
<g transform="translate(1267.3 1387.4) rotate(10)">
<ellipse cx="0" cy="0" rx="24.5" ry="7.5"/>
<path d="M-24.5 0 L-24.5 4.2"/>
<path d="M24.5 0 L24.5 4.2"/>
<path d="M24.5 4.2 A24.5 7.5 0 0 1 -24.5 4.2"/>
<path d="M-19 9.825 L-20 25.2"/>
<path d="M19 9.825 L17.5 25.2"/>
<path d="M17.5 25.2 A18.5 6 0 0 1 -19.5 25.2"/>
<path d="M15 24.1 A17 5.5 0 0 1 3.4 27.5" stroke-width="1.8"/>
<path d="M-2.5 27.7 A17 5.5 0 0 1 -17.4 23.6" stroke-width="1.8"/>
<path d="M20.2 2.1 A21.5 6 0 0 1 3.7 5.9" stroke-width="1.8"/>
<path d="M-5.6 5.8 A21.5 6 0 0 1 -20.2 2.1" stroke-width="1.8"/>
</g>
<text class="lb" x="1322.4" y="1331.7" font-size="35" text-anchor="middle">14</text><rect class="m" x="1304.1" y="1328.2" width="7" height="6"/><rect class="m" x="1315.3" y="1328.2" width="6.7" height="6"/>
<path d="M1318.4 1340.4 L1280.9 1381.1"/>
<path d="M1261.6 1424 L1253.8 1457.3"/>
<path d="M1252.3 1462.9 L1250.7 1470.2"/>
<path d="M1250.2 1476.9 L1241.4 1513.1 L1204.7 1493.5 L1193.8 1540.5"/>
<text class="lb" x="1305.8" y="1468.5" font-size="35" text-anchor="middle">16</text><rect class="m" x="1287.5" y="1465" width="7" height="6"/><rect class="m" x="1298.7" y="1465" width="6.7" height="6"/>
<path d="M1305.1 1474.6 L1305.9 1525.8"/>
<path d="M1281.2 1556.1 L1254.8 1571.1"/>
<ellipse cx="1310.7" cy="1539.8" rx="11.3" ry="12.9" transform="rotate(-15 1310.7 1539.8)" stroke-width="2.6"/>
<path d="M1305 1533.8 A7.5 8.5 0 0 1 1318 1533.8" stroke-width="2"/>
<path d="M1284.5 1544.7 L1300.5 1536 L1307.5 1548 L1290 1558.3 Q1279.5 1553.5 1284.5 1544.7 Z" stroke-width="2.6" fill="#fff"/>
<path d="M1300.5 1536 Q1307.5 1541 1307.5 1548" stroke-width="2.2"/>
<path d="M1296 1538.5 Q1302 1544 1301.5 1551.5" stroke-width="2"/>
<path d="M1291.5 1541 Q1297 1546.5 1296 1554.7" stroke-width="2"/>
<path d="M1286.5 1548.5 L1286.5 1551.5 L1289 1552" stroke-width="1.7"/>
<text class="lb" x="895.5" y="1430.1" font-size="35" text-anchor="middle">7</text>
<path d="M901.4 1438 L913.2 1468.6"/>
<path d="M895.5 1480 L938.2 1452.8 L952.8 1452.8 L982.6 1471.6 L982.6 1486.9 L953.4 1505.1 L930.9 1504.5 L912 1492.3 L909 1494.8 L909 1500.9 L905.3 1503.3 L900.4 1502.1 L876.7 1487.5 L876.7 1481.4 L881 1478.3 L891.9 1485.6"/>
<path d="M895.5 1480 C895.2 1480.5 893.8 1480.7 893.5 1483 C893.2 1485.3 893.7 1492.2 893.7 1494" stroke-width="2.2"/>
<path d="M895 1484.4 L906.5 1489.9" stroke-width="1.9"/>
<rect x="-18" y="-6.2" width="36" height="12.4" rx="6" transform="translate(936.3 1472) rotate(-30.5)"/>
<path d="M976.5 1482.2 A6.5 4.2 0 1 1 976.5 1475.8" stroke-width="2"/>
<g transform="translate(947.9 1493.6) rotate(-25)">
<path d="M6.4 3.2 A8.3 5 0 1 1 6.4 -3.2" stroke-width="2"/>
</g>
<path d="M943.6 1514.3 L942.8 1581.2"/>
<text class="lb" x="884.5" y="1668.8" font-size="35" text-anchor="middle">6</text>
<path d="M923.6 1592.1 L893.7 1637"/>
<path d="M950.3 1569.6 C951.1 1569 951.4 1566.9 955.2 1566 C959 1565.1 968.6 1564 972.9 1564.2 C977.2 1564.4 979.3 1565.6 980.8 1567.2 C982.3 1568.8 982.9 1570.5 982 1573.9 C981.1 1577.4 976.4 1585.6 975.3 1587.9" stroke-width="2.2"/>
<path d="M976.7 1573.1 A4.5 3.5 0 0 1 967.9 1573.1" stroke-width="1.8"/>
<path d="M929.6 1570.2 L941.8 1565.4 L947.9 1570.2"/>
<path d="M930.3 1573.9 L919.9 1578.2 L919.9 1587.3 L930.9 1594 L936.3 1599.5 L973.5 1618.9 L978.3 1615.9"/>
<path d="M929.6 1570.2 C929.8 1570.8 929.9 1572.7 930.5 1574 C931.1 1575.3 933 1577.3 933.5 1578" stroke-width="2"/>
<path d="M933 1577.5 L930.5 1590" stroke-width="2"/>
<path d="M945.7 1596.1 A10.3 8.5 0 1 1 946.5 1579.9" stroke-width="2.1"/>
<path d="M947.9 1588.1 A4.5 3.5 0 0 1 939.1 1588.1" stroke-width="1.8"/>
<path d="M948.5 1569.5 L972.9 1584.9" stroke-width="2"/>
<path d="M943 1575.7 L967.4 1590.3" stroke-width="2"/>
<path d="M967.4 1590.3 C967.6 1591.4 967.4 1595.1 968.6 1597 C969.8 1598.9 973.8 1599.2 974.7 1601.9 C975.6 1604.6 974.2 1611.1 974.1 1612.9" stroke-width="2"/>
<path d="M947.9 1600.7 L962.5 1598.2" stroke-width="1.9"/>
<path d="M975.9 1587.9 L986.9 1594.6 L987.5 1600.7" stroke-width="2.1"/>
<path d="M975.9 1587.9 L975.9 1593.5 L987 1600.5" stroke-width="2"/>
<path d="M987.5 1600.7 L1013.6 1615.3 L1024.6 1609.2"/>
<path d="M1024.6 1609.2 C1025.3 1608.9 1027.6 1607.8 1029 1607.5 C1030.4 1607.2 1032.4 1607.4 1033.1 1607.4"/>
<path d="M1033.1 1607.4 L1033.1 1625 L1013.6 1635.4 L978.3 1615.3"/>
<path d="M1014 1616 L1013.6 1628.1" stroke-width="2"/>
<path d="M1024.6 1609.8 C1024 1610.9 1021.5 1614.2 1021 1616.5 C1020.5 1618.8 1020.8 1622.4 1021.5 1623.8 C1022.2 1625.2 1024.6 1624.8 1025.2 1625" stroke-width="1.9"/>
<text class="lb" x="911.8" y="1754.2" font-size="35" text-anchor="middle">8</text>
<path d="M942.3 1673.2 L912.4 1721.9"/>
<g transform="translate(943 1655.3) rotate(-90)">
<ellipse cx="0" cy="0" rx="6" ry="14.6"/>
<path d="M-1.5 -12 L-12 -11"/>
<path d="M-1.5 12 L-12 11"/>
<path d="M-12 11 A6 11 0 0 1 -12 -11"/>
<path d="M-2.5 -4 L-9.5 -4" stroke-width="1.9"/>
<path d="M-2.5 4.8 L-9.5 4.8" stroke-width="1.9"/>
<path d="M3.6 -5.8 L28.5 -5.8"/>
<path d="M3.6 5.8 L28.5 5.8"/>
<path d="M28.5 -5.8 A2.6 5.8 0 0 1 28.5 5.8"/>
<path d="M8.6 -5.7 A2.6 5.8 0 0 1 8.6 5.7" stroke-width="1.8"/>
<path d="M15.7 -5.7 A2.6 5.8 0 0 1 15.7 5.7" stroke-width="1.8"/>
<path d="M22.8 -5.7 A2.6 5.8 0 0 1 22.8 5.7" stroke-width="1.8"/>
</g>
<text class="lb" x="1220.3" y="1711.9" font-size="35" text-anchor="middle">9</text>
<path d="M1218.1 1720.7 L1216.9 1776.8"/>
<path d="M1116.8 1621.3 C1120 1623.6 1131.9 1631.4 1136.3 1635 C1140.7 1638.6 1141.5 1639.9 1143.1 1642.8 C1144.6 1645.7 1145.8 1648.5 1145.6 1652.5 C1145.4 1656.5 1143.4 1662.5 1142.2 1667.1 C1141 1671.7 1140.6 1671.7 1138.3 1680 C1136 1688.3 1131 1705 1128.5 1717 C1126 1729 1123.4 1741.3 1123 1752 C1122.6 1762.7 1123.5 1773 1126 1781 C1128.5 1789 1133.7 1795.8 1138 1800 C1142.3 1804.2 1146.3 1805.8 1152 1806 C1157.7 1806.2 1161.2 1805.8 1172 1801.5 C1182.8 1797.2 1204 1786 1217 1780 C1230 1774 1241.8 1768.2 1249.7 1765.3 C1257.7 1762.4 1260.7 1762 1264.7 1762.5 C1268.7 1763 1271.5 1765.2 1273.5 1768 C1275.5 1770.8 1277.2 1774.3 1277 1779 C1276.8 1783.7 1273.9 1790.2 1272 1796 C1270.1 1801.8 1266.6 1811 1265.5 1814" stroke-width="3"/>
<path d="M1109 1635 C1111.9 1636.8 1122.9 1642.6 1126.6 1645.7 C1130.3 1648.8 1130.7 1650.2 1131 1653.5 C1131.3 1656.8 1129.7 1660.8 1128.5 1665.2 C1127.3 1669.6 1126 1671.5 1123.7 1680 C1121.4 1688.5 1116.8 1704 1114.5 1716 C1112.2 1728 1110.2 1740.3 1110 1752 C1109.8 1763.7 1110.5 1776.2 1113.5 1786 C1116.5 1795.8 1121.9 1805.2 1128 1811 C1134.1 1816.8 1142 1819.8 1150 1820.5 C1158 1821.2 1164.2 1819.5 1176 1815 C1187.8 1810.5 1208.7 1799.4 1221 1793.5 C1233.3 1787.6 1243.6 1782.3 1250 1779.5 C1256.4 1776.7 1257.4 1776.1 1259.5 1776.5 C1261.6 1776.9 1263.5 1776.2 1262.5 1782 C1261.5 1787.8 1255 1806.2 1253.5 1811" stroke-width="3"/>
<path d="M1116.8 1621.3 L1109 1635" stroke-width="2.6"/>
<path d="M1265.5 1814 L1253.5 1811" stroke-width="2.4"/>
<g transform="translate(1020.3 1575.6) rotate(28)">
<ellipse cx="-3.5" cy="0" rx="5.5" ry="8.5" stroke-width="2.6"/>
<path d="M-3.5 -8.5 L5 -7.5 M-3.5 8.5 L5 7.5" stroke-width="2.6"/>
<path d="M5 -7.5 A4.5 7.5 0 0 1 5 7.5" stroke-width="2.6"/>
<path d="M-2 -2 L-2 3 M-2 0 L1 1" stroke-width="1.6"/>
</g>
<path d="M1029.2 1580.4 L1064.3 1600.9" stroke-width="3"/>
<g transform="translate(1063.5 1602) rotate(30)">
<path d="M0 -2.5 L8 -7.8 L14 -8.2 M0 2.5 L8 7.8 L14 8.2" stroke-width="2.6"/>
<path d="M8 7.8 A3 7.8 0 0 1 8 -7.8" stroke-width="2.2"/>
<path d="M14 8.2 A3 8.2 0 0 1 14 -8.2" stroke-width="2.2"/>
<path d="M14 -8.8 L36 -8.8 M14 8.8 L36 8.8" stroke-width="2.6"/>
<path d="M16.5 8.8 A3 8.8 0 0 1 16.5 -8.8" stroke-width="2.2"/>
<path d="M33 8.8 A3 8.8 0 0 1 33 -8.8" stroke-width="2"/>
<path d="M36 -8.8 A3 8.8 0 0 1 36 8.8" stroke-width="2.4"/>
<path d="M21 -3 L29 -3 M25 -3 L25 4 M21 4 L27 4" stroke-width="1.8"/>
<path d="M37 -6.5 L53 -6.5 M37 6.5 L53 6.5" stroke-width="2.6"/>
<path d="M54 7.5 A2.6 7.5 0 0 1 54 -7.5" stroke-width="2.4"/>
</g>
<g transform="translate(1259.5 1812.5) rotate(108.5)">
<path d="M0 -5.5 L14 -5.5 M0 5.5 L14 5.5" stroke-width="2.4"/>
<path d="M14 -9.5 L37 -9 M14 9.5 L37 9" stroke-width="2.6"/>
<path d="M14 9.5 A3 9.5 0 0 1 14 -9.5" stroke-width="2.4"/>
<path d="M14 -9.5 A3 9.5 0 0 1 14 9.5" stroke-width="2"/>
<path d="M37 -9 A3 9 0 0 1 37 9" stroke-width="2.4"/>
<path d="M18 -3 L33 -3 M18 3 L33 3" stroke-width="1.8"/>
<path d="M38 -6.5 L50 -6 M38 6.5 L50 6" stroke-width="2.4"/>
<path d="M50 -6 A3.5 6 0 0 1 50 6" stroke-width="2.4"/>
</g>
<path d="M1243.2 1866.1 L1230.7 1900" stroke-width="2.6"/>
<g transform="translate(1230.2 1909.8) rotate(205)">
<ellipse cx="-3.5" cy="0" rx="5.5" ry="8.5" stroke-width="2.6"/>
<path d="M-3.5 -8.5 L5 -7.5 M-3.5 8.5 L5 7.5" stroke-width="2.6"/>
<path d="M5 -7.5 A4.5 7.5 0 0 1 5 7.5" stroke-width="2.6"/>
<path d="M-2 -2 L-2 3 M-2 0 L1 1" stroke-width="1.6"/>
</g>
<text class="lb" x="1188.2" y="1857.8" font-size="35" text-anchor="middle">11</text><rect class="m" x="1169.9" y="1854.3" width="7" height="6"/><rect class="m" x="1181.1" y="1854.3" width="6.7" height="6"/><rect class="m" x="1189.4" y="1854.3" width="7" height="6"/><rect class="m" x="1200.6" y="1854.3" width="6.7" height="6"/>
<path d="M1188.3 1867.3 L1196.5 1907.5"/>
<ellipse cx="1199.6" cy="1920.6" rx="9.8" ry="12.2" transform="rotate(-20 1199.6 1920.6)" stroke-width="2.5"/>
<path d="M1194 1929.4 A5.5 8.5 0 0 1 1196 1912.6" stroke-width="2"/>
<path d="M1202.7 1913 A6.5 8.5 0 0 1 1203.8 1928.4" stroke-width="1.8"/>
<path d="M1204.3 1925.8 A2.6 3.2 0 1 1 1205.3 1921.4" stroke-width="1.8"/>
<g transform="translate(1164.7 1907.2) rotate(24.5)">
<path d="M0 -5.5 L27 -5.5 M0 5.5 L24 5.5" stroke-width="2.5"/>
<path d="M0 5.5 A2.8 5.5 0 0 1 -0 -5.5" stroke-width="2.5"/>
<path d="M5.5 -5.4 A2.6 5.5 0 0 1 5.5 5.4" stroke-width="2"/>
<path d="M11 -5.4 A2.6 5.5 0 0 1 11 5.4" stroke-width="2"/>
<path d="M16.5 -5.4 A2.6 5.5 0 0 1 16.5 5.4" stroke-width="2"/>
<path d="M22 -5.4 A2.6 5.5 0 0 1 22 5.4" stroke-width="2"/>
</g>
<text class="lb" x="989.8" y="1964" font-size="35" text-anchor="middle">10</text><rect class="m" x="971.5" y="1960.5" width="7" height="6"/><rect class="m" x="982.7" y="1960.5" width="6.7" height="6"/>
<path d="M1016.1 1951.7 L1077 1952.8"/>
<path d="M1079.7 1942.5 L1105 1865.8 L1120.9 1866.4" stroke-width="2.5"/>
<path d="M1120.9 1866.4 C1122.5 1867.1 1128.5 1869.2 1130.6 1870.7 C1132.7 1872.2 1133.7 1873.2 1133.6 1875.6 C1133.5 1878 1130.6 1883.7 1130 1885.3" stroke-width="2.5"/>
<path d="M1128.2 1873.7 L1113.6 1871.3 L1103.8 1899.9"/>
<path d="M1099 1915.7 L1094.1 1930.3"/>
<path d="M1105 1865.8 L1113.6 1871.3" stroke-width="2"/>
<ellipse cx="1119.6" cy="1884.7" rx="3.8" ry="6.3" transform="rotate(18 1119.6 1884.7)" stroke-width="2.4"/>
<ellipse cx="1109.3" cy="1915.1" rx="3.8" ry="6.3" transform="rotate(18 1109.3 1915.1)" stroke-width="2.4"/>
<path d="M1122.1 1885.3 L1150.7 1900.5 L1142.2 1931.6 L1111.1 1916.3"/>
<path d="M1150.7 1900.5 L1160.4 1904.8"/>
<path d="M1126.3 1895.6 L1140.9 1903 L1137.9 1916.3 L1119.6 1913 Z" stroke-width="2.2"/>
<path d="M1128 1899.5 L1137 1904.5 L1135.5 1912" stroke-width="1.8"/>
<path d="M1124 1906 L1135 1908.5" stroke-width="1.8"/>
<path d="M1123 1910 L1133 1912.5" stroke-width="1.8"/>
<path d="M1116 1924.3 L1112.3 1935.2"/>
<path d="M1095.3 1931 C1093.6 1932 1087.8 1933.7 1085 1937 C1082.2 1940.3 1079.2 1947 1078.3 1951 C1077.4 1955 1078.5 1958.2 1079.5 1961 C1080.5 1963.8 1083.5 1966.9 1084.3 1968.1" stroke-width="2.6"/>
<path d="M1095.3 1931 L1180.5 1972.9" stroke-width="2.6"/>
<path d="M1084.3 1968.1 L1131.8 1987.6" stroke-width="2.5"/>
<path d="M1131.8 1987.6 C1134 1988.7 1140.7 1992 1145 1994 C1149.3 1996 1153.9 1998.5 1157.4 1999.7 C1160.9 2000.9 1163.7 2001.8 1166 2001.3 C1168.3 2000.8 1170.6 1997.7 1171.5 1997" stroke-width="2.5"/>
<path d="M1147.6 1954.7 C1145.8 1955.8 1139.6 1958.6 1137 1961 C1134.4 1963.4 1133 1966.3 1131.8 1969.3 C1130.5 1972.3 1129.5 1976 1129.5 1979 C1129.5 1982 1131.4 1986.2 1131.8 1987.6" stroke-width="2.2"/>
<path d="M1167.1 1968.4 C1165.8 1969.5 1160.9 1972.2 1159 1975 C1157.1 1977.8 1155.9 1981.7 1155.5 1985 C1155.1 1988.3 1155.8 1992.5 1156.5 1995 C1157.2 1997.5 1159 1999.2 1159.5 2000" stroke-width="2" stroke-dasharray="7 4"/>
<path d="M1180.5 1972.9 L1182 1977" stroke-width="2.3"/>
<ellipse cx="1169.6" cy="1985.3" rx="4.3" ry="8.5" transform="rotate(12 1169.6 1985.3)" stroke-width="2.3"/>
<path d="M1170.5 1977 L1180.5 1979" stroke-width="2.3"/>
<path d="M1169.5 1994 L1178.1 1996" stroke-width="2.3"/>
<path d="M1105.5 1946 C1106.8 1946.2 1110.9 1946.2 1113 1947.5 C1115.1 1948.8 1117.2 1951.8 1118 1954 C1118.8 1956.2 1118 1959.8 1118 1961" stroke-width="1.9" stroke-dasharray="6 3"/>
<path d="M1103 1949 L1095.5 1966" stroke-width="1.9" stroke-dasharray="6 3"/>
<path d="M1121 1963 C1119.7 1962.6 1115.4 1960 1113 1960.5 C1110.6 1961 1107.2 1964 1106.5 1966 C1105.8 1968 1107.4 1971.8 1109 1972.5 C1110.6 1973.2 1114.8 1970.8 1116 1970.5" stroke-width="1.9" stroke-dasharray="6 3"/>
<path d="M1117 1969 C1118.1 1968.5 1122.8 1965.3 1123.5 1966 C1124.2 1966.7 1122.1 1970.8 1121 1973 C1119.9 1975.2 1117.7 1978.4 1117 1979.5" stroke-width="1.9"/>
<path d="M1180.5 1977.8 C1182.2 1975 1185.1 1973.3 1189 1972.3 C1192.9 1971.3 1199.1 1971.8 1204 1972 C1208.9 1972.2 1214.2 1972.4 1218.2 1973.6 C1222.2 1974.8 1226 1976.5 1228 1979 C1230 1981.5 1230.7 1985.6 1230.4 1988.8 C1230.1 1992 1227 1995.6 1226 1998 C1225 2000.4 1223.7 2000.7 1224.3 2003.4 C1224.9 2006.1 1229 2010.7 1229.8 2014.3 C1230.6 2017.9 1230.7 2022.4 1229.2 2025.3 C1227.7 2028.2 1224.4 2031 1220.7 2031.4 C1217 2031.8 1211.8 2029.7 1207.3 2027.7 C1202.8 2025.7 1198.3 2022.3 1194 2019.5 C1189.7 2016.7 1184.4 2013.6 1181.7 2010.7 C1179 2007.8 1178.6 2005.8 1178.1 2002.2 C1177.6 1998.6 1178.1 1993.1 1178.5 1989 C1178.9 1984.9 1178.8 1980.6 1180.5 1977.8 Z" stroke-width="2.8"/>
<path d="M1186 1979.5 C1189 1979.8 1199 1980.2 1204 1981 C1209 1981.8 1213.2 1982.3 1216 1984 C1218.8 1985.7 1220.4 1988.7 1221 1991 C1221.6 1993.3 1219.8 1996.8 1219.5 1998" stroke-width="2.2"/>
<path d="M1189 1994 C1188.9 1995.3 1187.7 1999.6 1188.5 2002 C1189.3 2004.4 1190.8 2006.3 1194 2008.5 C1197.2 2010.7 1203.7 2013.1 1208 2015 C1212.3 2016.9 1218 2019.2 1220 2020" stroke-width="2.2"/>
<path d="M1189 1994 C1190.2 1993.6 1192.2 1991.2 1196 1991.5 C1199.8 1991.8 1207.7 1994.2 1212 1995.5 C1216.3 1996.8 1220.3 1998.8 1222 1999.5" stroke-width="2.2"/>
<path d="M1196 1994 C1196.1 1995 1194.7 1998.2 1196.5 2000 C1198.3 2001.8 1205.2 2005.5 1207 2005 C1208.8 2004.5 1207.4 1998.3 1207.5 1997" stroke-width="2"/>
<path d="M1219.5 2000 L1217.5 2017" stroke-width="2"/>
<path d="M1223 2001 L1221.5 2019" stroke-width="2"/>
<path d="M1208 1986 A3 3.5 0 1 1 1209.5 1992.5" stroke-width="1.9"/>
<path d="M1187.5 2007 A3 3.5 0 1 1 1189 2013.5" stroke-width="1.9"/>
<path d="M1204 2017 A3 3.5 0 1 1 1205.5 2023.5" stroke-width="1.9"/>
<path d="M1189.2 1984.5 A3 3 0 1 1 1193.5 1988.1" stroke-width="1.9"/>
<path d="M1222 2015 C1222.8 2015.5 1226.5 2016 1227 2018 C1227.5 2020 1225.3 2025.5 1225 2027" stroke-width="2"/>
<path d="M168.8 2034 L197.5 1987.8 L203 1990 L201 1999.5 L256.9 1963.7 L262.3 1966.5 L262.7 2007.6 L203 2039.5 L202.1 2051.4 Z" stroke-width="3.4"/>
<path d="M174.5 2034 L199 1993.5" stroke-width="1.6"/>
<path d="M204 2000.5 L258 1968.5 L259 2004" stroke-width="1.6"/>
<text transform="matrix(0.93 -0.5 0.12 1 204.5 2030)" font-size="34" font-weight="bold" font-style="italic" style="stroke-width:1.2px" textLength="55" lengthAdjust="spacingAndGlyphs">FWD</text>
<text x="167.5" y="2098.8" font-size="31.5" text-anchor="start" style="stroke-width:0.2px">5EJ5100-9300</text>
</svg>
</body></html>
